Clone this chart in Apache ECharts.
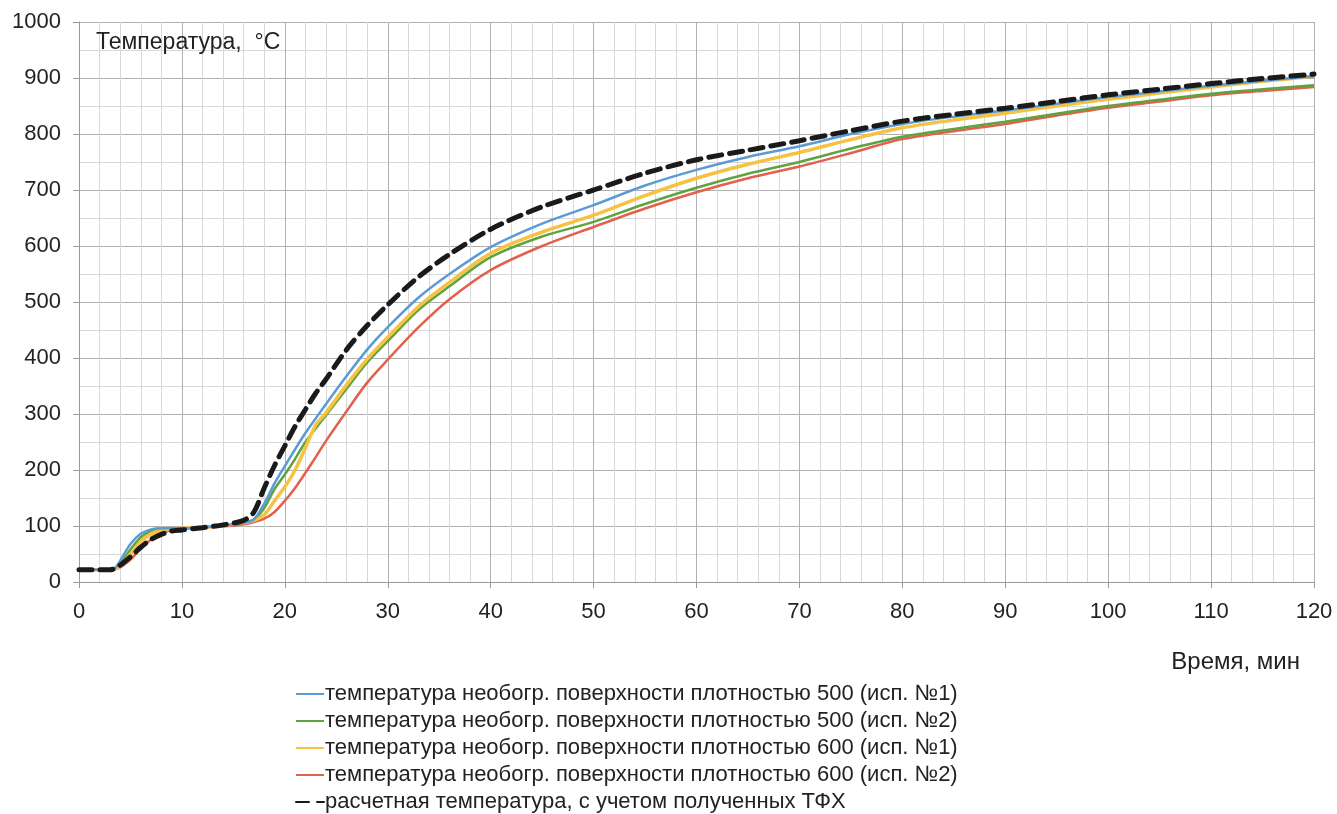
<!DOCTYPE html>
<html>
<head>
<meta charset="utf-8">
<title>Температура необогреваемой поверхности</title>
<script src="https://cdn.jsdelivr.net/npm/echarts@6/dist/echarts.min.js"></script>
<style>
html, body { margin: 0; padding: 0; background: #fff; }
#chart { width: 1337px; height: 814px; }
</style>
</head>
<body>
<div id="chart"></div>
<script>
// время, мин
var times = [0, 3, 3.5, 4, 5, 6, 7, 8, 9, 10, 12, 14, 16, 17, 18, 19, 20, 21, 22, 23, 24, 26, 28, 30, 33, 36, 40, 45, 50, 55, 60, 65, 70, 75, 80, 85, 90, 95, 100, 105, 110, 115, 120];

var t500n1 = [22, 22, 25, 38, 68, 86, 94, 96, 96, 96, 98, 101, 106, 112, 140, 176, 207, 237, 266, 292, 318, 368, 415, 455, 508, 550, 598, 640, 673, 708, 736, 759, 778, 800, 818, 831, 842, 854, 866, 876, 886, 895, 903];
var t500n2 = [22, 22, 23, 32, 58, 80, 91, 95, 96, 96, 98, 101, 106, 111, 132, 166, 192, 220, 250, 274, 298, 345, 392, 430, 486, 528, 580, 617, 643, 675, 704, 729, 750, 774, 795, 809, 822, 836, 850, 861, 872, 880, 887];
var t600n1 = [22, 22, 23, 28, 50, 72, 86, 92, 95, 96, 98, 101, 106, 110, 120, 145, 170, 200, 240, 280, 302, 352, 398, 437, 492, 535, 587, 625, 655, 690, 721, 746, 767, 790, 811, 825, 837, 850, 862, 873, 884, 894, 903];
var t600n2 = [22, 22, 23, 26, 40, 60, 76, 87, 93, 95, 97, 99, 103, 107, 113, 125, 145, 168, 195, 223, 252, 305, 356, 397, 455, 505, 557, 600, 634, 667, 696, 721, 742, 766, 791, 805, 818, 833, 847, 858, 869, 877, 884];
var tCalc = [22, 22, 24, 30, 45, 62, 76, 85, 91, 93, 97, 102, 110, 125, 168, 208, 243, 278, 308, 337, 362, 415, 458, 495, 545, 585, 630, 670, 700, 730, 754, 771, 788, 806, 823, 835, 846, 858, 870, 880, 890, 899, 907];

var names = [
    "температура необогр. поверхности плотностью 500 (исп. №1)",
    "температура необогр. поверхности плотностью 500 (исп. №2)",
    "температура необогр. поверхности плотностью 600 (исп. №1)",
    "температура необогр. поверхности плотностью 600 (исп. №2)",
    "расчетная температура, с учетом полученных ТФХ"
];
var colors = ["#5b9bd5", "#5ea33f", "#f5c242", "#e2604c", "#1a1a1a"];

function pairs(vals) {
    var out = [];
    for (var i = 0; i < times.length; i++) out.push([times[i], vals[i]]);
    return out;
}

function line(idx, vals, width, z) {
    return {
        name: names[idx],
        type: "line",
        data: pairs(vals),
        smooth: 0.3,
        symbol: "none",
        z: z,
        lineStyle: { color: colors[idx], width: width },
        itemStyle: { color: colors[idx] }
    };
}

var chart = echarts.init(document.getElementById("chart"));

var calc = line(4, tCalc, 5, 10);
calc.lineStyle.type = [13, 8];
calc.lineStyle.cap = "round";

chart.setOption({
    animation: false,
    color: colors,
    grid: { left: 79, right: 23, top: 22, bottom: 232 },
    legend: {
        orient: "vertical",
        left: 290,
        top: 678,
        width: 900,
        height: 200,
        itemWidth: 28,
        itemHeight: 12,
        itemGap: 5,
        itemStyle: { opacity: 0 },
        textStyle: { fontFamily: "Liberation Sans", fontSize: 22, color: "#222", padding: [0, 0, 0, -4] },
        data: names
    },
    graphic: [{
        type: "text",
        left: 96,
        top: 31,
        z: 100,
        style: { text: "Температура,  °С", font: "23px Liberation Sans", fill: "#222" }
    }],
    xAxis: {
        type: "value",
        min: 0,
        max: 120,
        interval: 10,
        name: "Время, мин",
        nameLocation: "end",
        nameGap: 0,
        nameTextStyle: { fontFamily: "Liberation Sans", fontSize: 24, color: "#222", align: "right", verticalAlign: "top", padding: [68, 14, 0, 0] },
        axisLine: { lineStyle: { color: "#9a9a9a", width: 1 } },
        axisTick: { show: true, length: 6, lineStyle: { color: "#9a9a9a" } },
        axisLabel: { margin: 19, fontFamily: "Liberation Sans", fontSize: 22, color: "#222" },
        splitLine: { show: true, lineStyle: { color: "#b0b0b0", width: 1 } },
        minorTick: { show: false, splitNumber: 5 },
        minorSplitLine: { show: true, lineStyle: { color: "#d8d8d8", width: 1 } }
    },
    yAxis: {
        type: "value",
        min: 0,
        max: 1000,
        interval: 100,
        axisLine: { show: true, lineStyle: { color: "#9a9a9a", width: 1 } },
        axisTick: { show: true, length: 6, lineStyle: { color: "#9a9a9a" } },
        axisLabel: { margin: 18, fontFamily: "Liberation Sans", fontSize: 22, color: "#222", formatter: function(v) { return String(v); } },
        splitLine: { show: true, lineStyle: { color: "#b0b0b0", width: 1 } },
        minorTick: { show: false, splitNumber: 2 },
        minorSplitLine: { show: true, lineStyle: { color: "#d8d8d8", width: 1 } }
    },
    series: [
        line(0, t500n1, 2.5, 5),
        line(1, t500n2, 2.5, 3),
        line(2, t600n1, 3.5, 4),
        line(3, t600n2, 2.5, 2),
        calc
    ]
});

window.onresize = function() {
    chart.resize();
};
</script>
</body>
</html>
